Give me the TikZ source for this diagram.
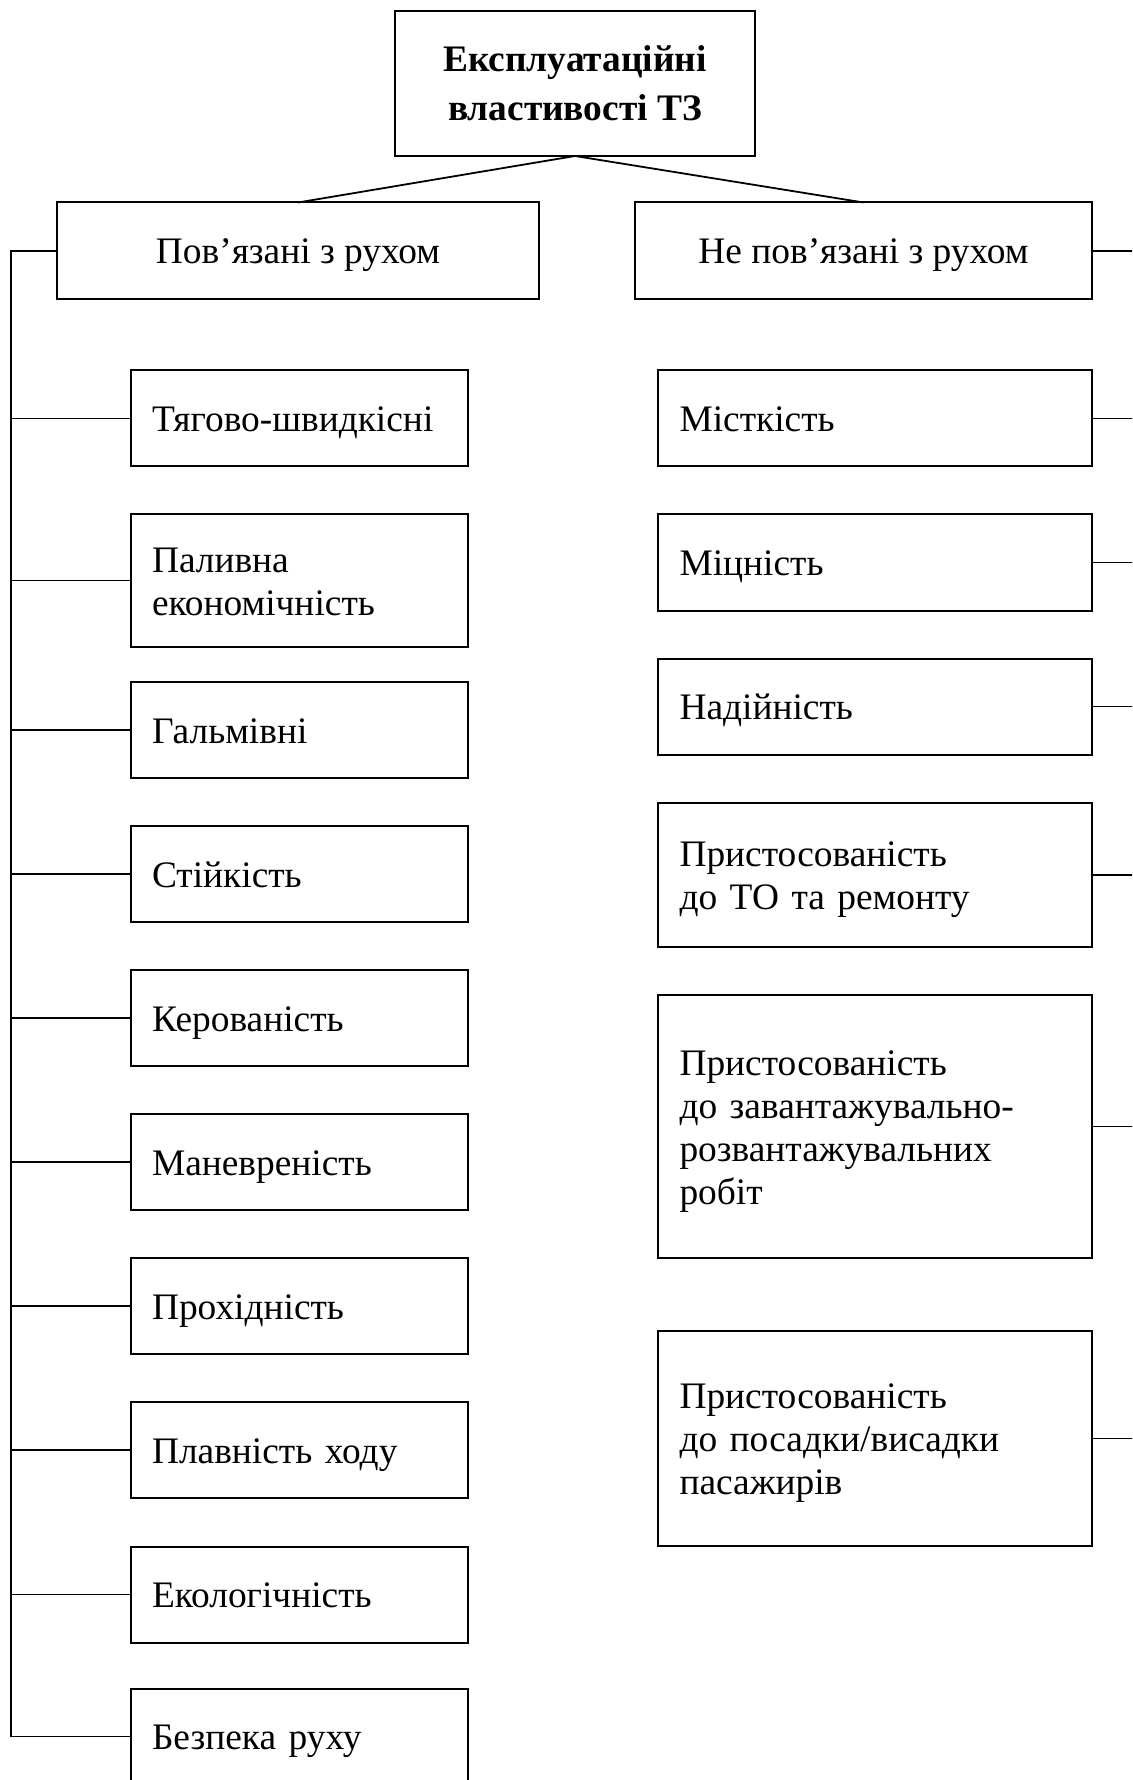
\documentclass[tikz,border=0pt]{standalone}
\usepackage{fontspec}
\setmainfont{Liberation Serif}
\begin{document}
\begin{tikzpicture}[x=0.5pt,y=-0.5pt,
  every node/.style={font=\fontsize{18.7pt}{21.5pt}\selectfont},
  basebox/.style={draw, line width=1pt, rectangle, inner ysep=0pt, outer sep=0pt},
  struts/.style={execute at begin node={\rule{0pt}{17.5pt}},
                 execute at end node={\rule[-4.5pt]{0pt}{0pt}}},
  topbox/.style={basebox, minimum width=180pt, minimum height=72.5pt, align=center,
     font=\fontsize{18.7pt}{24.5pt}\selectfont\bfseries},
  midbox/.style={basebox, struts, minimum height=48.5pt, align=center},
  lbox/.style={basebox, struts, text width=147pt, inner xsep=10.75pt, align=left, minimum height=48pt},
  rbox/.style={basebox, struts, text width=195.5pt, inner xsep=10.75pt, align=left, minimum height=48pt},
  bus/.style={line width=0.9pt},
  branch/.style={line width=0.65pt}]
\useasboundingbox (0,0) rectangle (1132,1780);
\clip (0,0) rectangle (1132,1780);
\fill[white] (0,0) rectangle (1132,1780);

% top
\node[topbox] (top) at (575,83.5) {Експлуатаційні\\властивості ТЗ};
\node[midbox, minimum width=241pt] (mov) at (298,251) {Пов’язані з рухом};
\node[midbox, minimum width=228.5pt] (nmov) at (863.5,251) {Не пов’язані з рухом};
\draw[bus] (top.south) -- (mov.north);
\draw[bus] (top.south) -- (nmov.north);

% left column
\node[lbox] (l1) at (299,418.5) {Тягово-швидкісні};
\node[lbox, minimum height=66.5pt] (l2) at (299,580.5) {Паливна\\економічність};
\node[lbox] (l3) at (299,730) {Гальмівні};
\node[lbox] (l4) at (299,874) {Стійкість};
\node[lbox] (l5) at (299,1018) {Керованість};
\node[lbox] (l6) at (299,1162) {Маневреність};
\node[lbox] (l7) at (299,1306) {Прохідність};
\node[lbox] (l8) at (299,1450) {Плавність ходу};
\node[lbox] (l9) at (299,1594.5) {Екологічність};
\node[lbox] (l10) at (299,1736.5) {Безпека руху};

\coordinate (bustop) at (11,251);
\coordinate (busbot) at (11,1736.5);
\draw[bus] (mov.west) -- (bustop) -- (busbot);
\foreach \n in {l1,l2,l3,l4,l5,l6,l7,l8,l9,l10}{
  \draw[branch] (\n.west) -- (bustop |- \n.west);
}

% right column
\node[rbox] (r1) at (875,418.5) {Місткість};
\node[rbox] (r2) at (875,562.5) {Міцність};
\node[rbox] (r3) at (875,706.5) {Надійність};
\node[rbox, minimum height=72pt] (r4) at (875,875) {Пристосованість\\до ТО та ремонту};
\node[rbox, minimum height=131.5pt] (r5) at (875,1126.5) {Пристосованість\\до завантажувально-\\розвантажувальних\\робіт};
\node[rbox, minimum height=107.5pt] (r6) at (875,1438.5) {Пристосованість\\до посадки/висадки\\пасажирів};

\coordinate (redge) at (1140,0);
\draw[bus] (nmov.east) -- (redge |- nmov.east);
\foreach \n in {r1,r2,r3,r4,r5,r6}{
  \draw[branch] (\n.east) -- (redge |- \n.east);
}
\end{tikzpicture}
\end{document}
